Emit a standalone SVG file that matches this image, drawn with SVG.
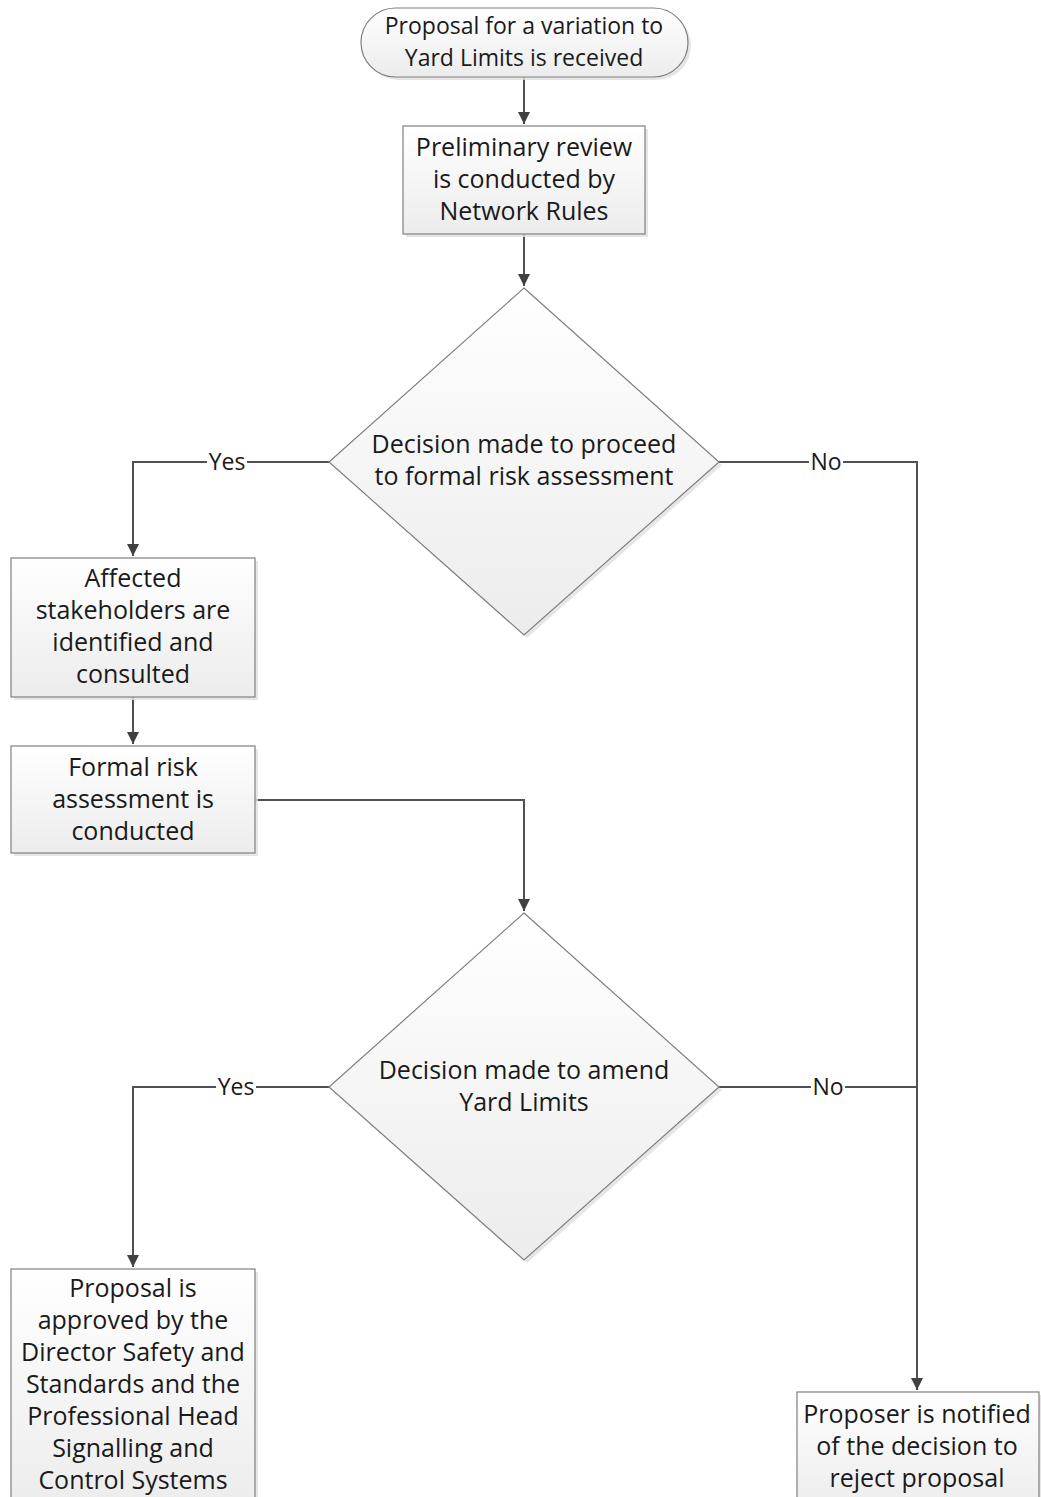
<svg xmlns="http://www.w3.org/2000/svg" width="1041" height="1497" viewBox="0 0 1041 1497">
<style>
.shape{stroke:#808080;stroke-width:1.2;fill:url(#g)}
.shadow{fill:#e0e0e0;opacity:0.8}
.t{font-family:"Open Sans","Liberation Sans",sans-serif;font-size:25px;fill:#1a1a1a;text-anchor:middle}
.ts{font-family:"Open Sans","Liberation Sans",sans-serif;font-size:23px;fill:#1a1a1a;text-anchor:middle}
.c{fill:none;stroke:#505050;stroke-width:2}
.lbl{font-family:"Open Sans","Liberation Sans",sans-serif;font-size:23px;fill:#1a1a1a;text-anchor:middle}
</style>
<defs>
<linearGradient id="g" x1="0" y1="0" x2="0" y2="1">
<stop offset="0" stop-color="#ffffff"/>
<stop offset="1" stop-color="#ececec"/>
</linearGradient>
<marker id="a" markerWidth="12" markerHeight="12" refX="10" refY="5" orient="auto" markerUnits="userSpaceOnUse" viewBox="0 0 10 10">
<path d="M0,0 L10,5 L0,10 z" fill="#404040"/>
</marker>
</defs>
<rect width="1041" height="1497" fill="#ffffff"/>

<g id="connectors">
<path class="c" d="M524,77 V124" marker-end="url(#a)"/>
<path class="c" d="M524,234 V286" marker-end="url(#a)"/>
<path class="c" d="M329,462 H133 V556" marker-end="url(#a)"/>
<path class="c" d="M719,462 H917 V1390" marker-end="url(#a)"/>
<path class="c" d="M133,697 V744" marker-end="url(#a)"/>
<path class="c" d="M255,800 H524 V911" marker-end="url(#a)"/>
<path class="c" d="M329,1087 H133 V1267" marker-end="url(#a)"/>
<path class="c" d="M719,1087 H917"/>
<rect x="207" y="448" width="40" height="28" fill="#ffffff"/>
<text class="lbl" x="227" y="470">Yes</text>
<rect x="809" y="448" width="34" height="28" fill="#ffffff"/>
<text class="lbl" x="826" y="470">No</text>
<rect x="216" y="1073" width="40" height="28" fill="#ffffff"/>
<text class="lbl" x="236" y="1095">Yes</text>
<rect x="811" y="1073" width="34" height="28" fill="#ffffff"/>
<text class="lbl" x="828" y="1095">No</text>
</g>

<g id="start">
<rect class="shadow" x="364" y="11" width="327" height="69" rx="34.5"/>
<rect class="shape" x="361" y="8" width="327" height="69" rx="34.5"/>
<text class="ts" x="524" y="34">Proposal for a variation to</text>
<text class="ts" x="524" y="66">Yard Limits is received</text>
</g>

<g id="review">
<rect class="shadow" x="406" y="129" width="242" height="108"/>
<rect class="shape" x="403" y="126" width="242" height="108"/>
<text class="t" x="524" y="156">Preliminary review</text>
<text class="t" x="524" y="188">is conducted by</text>
<text class="t" x="524" y="220">Network Rules</text>
</g>

<g id="decision1">
<polygon class="shadow" points="527,291 722,465 527,638 332,465"/>
<polygon class="shape" points="524,288 719,462 524,635 329,462"/>
<text class="t" x="524" y="453">Decision made to proceed</text>
<text class="t" x="524" y="485">to formal risk assessment</text>
</g>

<g id="stakeholders">
<rect class="shadow" x="14" y="561" width="244" height="139"/>
<rect class="shape" x="11" y="558" width="244" height="139"/>
<text class="t" x="133" y="587">Affected</text>
<text class="t" x="133" y="619">stakeholders are</text>
<text class="t" x="133" y="651">identified and</text>
<text class="t" x="133" y="683">consulted</text>
</g>

<g id="risk">
<rect class="shadow" x="14" y="749" width="244" height="107"/>
<rect class="shape" x="11" y="746" width="244" height="107"/>
<text class="t" x="133" y="776">Formal risk</text>
<text class="t" x="133" y="808">assessment is</text>
<text class="t" x="133" y="840">conducted</text>
</g>

<g id="decision2">
<polygon class="shadow" points="527,916 722,1090 527,1263 332,1090"/>
<polygon class="shape" points="524,913 719,1087 524,1260 329,1087"/>
<text class="t" x="524" y="1079">Decision made to amend</text>
<text class="t" x="524" y="1111">Yard Limits</text>
</g>

<g id="approved">
<rect class="shadow" x="14" y="1272" width="244" height="240"/>
<rect class="shape" x="11" y="1269" width="244" height="240"/>
<text class="t" x="133" y="1297">Proposal is</text>
<text class="t" x="133" y="1329">approved by the</text>
<text class="t" x="133" y="1361">Director Safety and</text>
<text class="t" x="133" y="1393">Standards and the</text>
<text class="t" x="133" y="1425">Professional Head</text>
<text class="t" x="133" y="1457">Signalling and</text>
<text class="t" x="133" y="1489">Control Systems</text>
</g>

<g id="rejected">
<rect class="shadow" x="800" y="1395" width="242" height="120"/>
<rect class="shape" x="797" y="1392" width="242" height="120"/>
<text class="t" x="917" y="1423">Proposer is notified</text>
<text class="t" x="917" y="1455">of the decision to</text>
<text class="t" x="917" y="1487">reject proposal</text>
</g>
</svg>
